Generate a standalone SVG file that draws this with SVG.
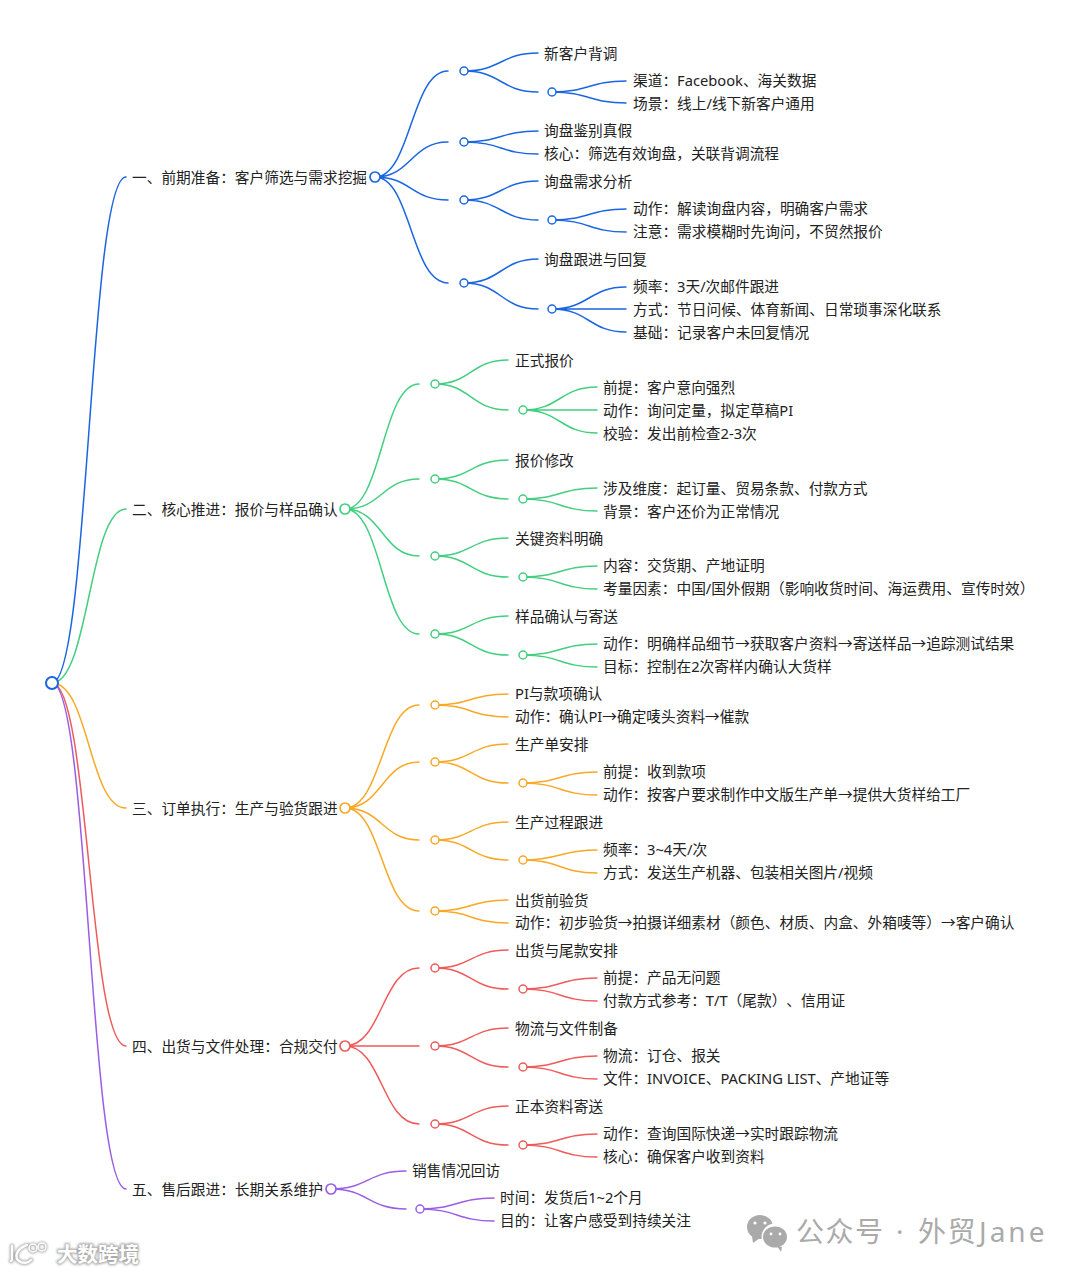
<svg xmlns="http://www.w3.org/2000/svg" width="1080" height="1274" viewBox="0 0 1080 1274">
<defs>
<style>
text{font-family:"Noto Sans","Noto Sans CJK SC",sans-serif;font-size:14.7px;fill:#222;text-spacing-trim:space-all}
path{fill:none;stroke-width:1.5;stroke-linecap:round}
circle{fill:#fff;stroke-width:1.5}
.root{stroke-width:2;stroke:#1a66e0}
.big{stroke-width:1.7}
.b path,.b circle{stroke:#1a66e0}
.g path,.g circle{stroke:#42cf7f}
.o path,.o circle{stroke:#f9a825}
.r path,.r circle{stroke:#ef5a5a}
.p path,.p circle{stroke:#9b5de5}
.wm text{font-size:28px;fill:#aaa;letter-spacing:1.5px}
.wm path,.wm ellipse{fill:#aaa;stroke:none}
.wm circle{fill:#fff;stroke:none}
.dk text{font-size:20.5px;font-weight:700;fill:#fff;stroke:none}
.dks text{font-size:20.5px;font-weight:700;fill:#aaa;stroke:#aaa;stroke-width:2.5px}
.dk path{fill:none;stroke:#fff;stroke-width:2.4}
.dks path{fill:none;stroke:#aaa;stroke-width:4.5}
.dk circle{fill:none;stroke:#fff;stroke-width:1.5}
.dks circle{fill:none;stroke:#aaa;stroke-width:3}
</style>
<filter id="soft" x="-10%" y="-20%" width="120%" height="140%"><feGaussianBlur stdDeviation="1.2"/></filter>
</defs>
<rect width="1080" height="1274" fill="#fff"/>
<g id="connectors">
<g class="b">
<path d="M52 683C89 683 89 177 126 177"/>
<path d="M375 177C411 177 411 71 448 71M375 177C411 177 411 142 448 142M375 177C411 177 411 200 448 200M375 177C411 177 411 283 448 283"/>
<path d="M464 71C501 71 501 53 538 53M464 71C501 71 501 92 538 92M552 92C589 92 589 81 626 81M552 92C589 92 589 103 626 103"/>
<path d="M464 142C501 142 501 131 538 131M464 142C501 142 501 154 538 154"/>
<path d="M464 200C501 200 501 181 538 181M464 200C501 200 501 220 538 220M552 220C589 220 589 209 626 209M552 220C589 220 589 232 626 232"/>
<path d="M464 283C501 283 501 259 538 259M464 283C501 283 501 309 538 309M552 309C589 309 589 287 626 287M552 309L626 309M552 309C589 309 589 332 626 332"/>
</g>
<g class="g">
<path d="M52 683C89 683 89 509 126 509"/>
<path d="M345 509C382 509 382 384 419 384M345 509C382 509 382 479 419 479M345 509C382 509 382 556 419 556M345 509C382 509 382 634 419 634"/>
<path d="M435 384C471 384 471 360 508 360M435 384C471 384 471 410 508 410M523 410C560 410 560 387 597 387M523 410L597 410M523 410C560 410 560 433 597 433"/>
<path d="M435 479C471 479 471 460 508 460M435 479C471 479 471 499 508 499M523 499C560 499 560 488 597 488M523 499C560 499 560 511 597 511"/>
<path d="M435 556C471 556 471 538 508 538M435 556C471 556 471 577 508 577M523 577C560 577 560 566 597 566M523 577C560 577 560 589 597 589"/>
<path d="M435 634C471 634 471 616 508 616M435 634C471 634 471 655 508 655M523 655C560 655 560 644 597 644M523 655C560 655 560 667 597 667"/>
</g>
<g class="o">
<path d="M52 683C89 683 89 808 126 808"/>
<path d="M345 808C382 808 382 705 419 705M345 808C382 808 382 762 419 762M345 808C382 808 382 840 419 840M345 808C382 808 382 911 419 911"/>
<path d="M435 705C471 705 471 694 508 694M435 705C471 705 471 717 508 717"/>
<path d="M435 762C471 762 471 744 508 744M435 762C471 762 471 783 508 783M523 783C560 783 560 772 597 772M523 783C560 783 560 795 597 795"/>
<path d="M435 840C471 840 471 822 508 822M435 840C471 840 471 860 508 860M523 860C560 860 560 850 597 850M523 860C560 860 560 873 597 873"/>
<path d="M435 911C471 911 471 900 508 900M435 911C471 911 471 923 508 923"/>
</g>
<g class="r">
<path d="M52 683C89 683 89 1046 126 1046"/>
<path d="M345 1046C382 1046 382 968 419 968M345 1046L419 1046M345 1046C382 1046 382 1124 419 1124"/>
<path d="M435 968C471 968 471 950 508 950M435 968C471 968 471 989 508 989M523 989C560 989 560 978 597 978M523 989C560 989 560 1001 597 1001"/>
<path d="M435 1046C471 1046 471 1028 508 1028M435 1046C471 1046 471 1067 508 1067M523 1067C560 1067 560 1056 597 1056M523 1067C560 1067 560 1079 597 1079"/>
<path d="M435 1124C471 1124 471 1106 508 1106M435 1124C471 1124 471 1145 508 1145M523 1145C560 1145 560 1134 597 1134M523 1145C560 1145 560 1157 597 1157"/>
</g>
<g class="p">
<path d="M52 683C89 683 89 1189 126 1189"/>
<path d="M331 1189C368 1189 368 1171 406 1171M331 1189C368 1189 368 1209 406 1209M420 1209C457 1209 457 1198 494 1198M420 1209C457 1209 457 1221 494 1221"/>
</g>
</g>
<g id="root"><circle class="root" cx="52" cy="683" r="6"/></g>
<g id="branch1" class="b">
<g id="n1"><text x="132" y="183">一、前期准备：客户筛选与需求挖掘</text><circle class="big" cx="375" cy="177" r="5"/></g>
<g id="n1-1"><circle cx="464" cy="71" r="4"/></g>
<g id="n1-1-1"><text x="544" y="59">新客户背调</text></g>
<g id="n1-1-2"><circle cx="552" cy="92" r="4"/></g>
<g id="n1-1-2-1"><text x="633" y="86">渠道：Facebook、海关数据</text></g>
<g id="n1-1-2-2"><text x="633" y="109">场景：线上/线下新客户通用</text></g>
<g id="n1-2"><circle cx="464" cy="142" r="4"/></g>
<g id="n1-2-1"><text x="544" y="136">询盘鉴别真假</text></g>
<g id="n1-2-2"><text x="544" y="159">核心：筛选有效询盘，关联背调流程</text></g>
<g id="n1-3"><circle cx="464" cy="200" r="4"/></g>
<g id="n1-3-1"><text x="544" y="187">询盘需求分析</text></g>
<g id="n1-3-2"><circle cx="552" cy="220" r="4"/></g>
<g id="n1-3-2-1"><text x="633" y="214">动作：解读询盘内容，明确客户需求</text></g>
<g id="n1-3-2-2"><text x="633" y="237">注意：需求模糊时先询问，不贸然报价</text></g>
<g id="n1-4"><circle cx="464" cy="283" r="4"/></g>
<g id="n1-4-1"><text x="544" y="265">询盘跟进与回复</text></g>
<g id="n1-4-2"><circle cx="552" cy="309" r="4"/></g>
<g id="n1-4-2-1"><text x="633" y="292">频率：3天/次邮件跟进</text></g>
<g id="n1-4-2-2"><text x="633" y="315">方式：节日问候、体育新闻、日常琐事深化联系</text></g>
<g id="n1-4-2-3"><text x="633" y="338">基础：记录客户未回复情况</text></g>
</g>
<g id="branch2" class="g">
<g id="n2"><text x="132" y="515">二、核心推进：报价与样品确认</text><circle class="big" cx="345" cy="509" r="5"/></g>
<g id="n2-1"><circle cx="435" cy="384" r="4"/></g>
<g id="n2-1-1"><text x="515" y="365.500">正式报价</text></g>
<g id="n2-1-2"><circle cx="523" cy="410" r="4"/></g>
<g id="n2-1-2-1"><text x="603" y="393">前提：客户意向强烈</text></g>
<g id="n2-1-2-2"><text x="603" y="416">动作：询问定量，拟定草稿PI</text></g>
<g id="n2-1-2-3"><text x="603" y="439">校验：发出前检查2-3次</text></g>
<g id="n2-2"><circle cx="435" cy="479" r="4"/></g>
<g id="n2-2-1"><text x="515" y="466">报价修改</text></g>
<g id="n2-2-2"><circle cx="523" cy="499" r="4"/></g>
<g id="n2-2-2-1"><text x="603" y="494">涉及维度：起订量、贸易条款、付款方式</text></g>
<g id="n2-2-2-2"><text x="603" y="517">背景：客户还价为正常情况</text></g>
<g id="n2-3"><circle cx="435" cy="556" r="4"/></g>
<g id="n2-3-1"><text x="515" y="544">关键资料明确</text></g>
<g id="n2-3-2"><circle cx="523" cy="577" r="4"/></g>
<g id="n2-3-2-1"><text x="603" y="571">内容：交货期、产地证明</text></g>
<g id="n2-3-2-2"><text x="603" y="594">考量因素：中国/国外假期（影响收货时间、海运费用、宣传时效）</text></g>
<g id="n2-4"><circle cx="435" cy="634" r="4"/></g>
<g id="n2-4-1"><text x="515" y="622">样品确认与寄送</text></g>
<g id="n2-4-2"><circle cx="523" cy="655" r="4"/></g>
<g id="n2-4-2-1"><text x="603" y="649">动作：明确样品细节→获取客户资料→寄送样品→追踪测试结果</text></g>
<g id="n2-4-2-2"><text x="603" y="672">目标：控制在2次寄样内确认大货样</text></g>
</g>
<g id="branch3" class="o">
<g id="n3"><text x="132" y="814">三、订单执行：生产与验货跟进</text><circle class="big" cx="345" cy="808" r="5"/></g>
<g id="n3-1"><circle cx="435" cy="705" r="4"/></g>
<g id="n3-1-1"><text x="515" y="699">PI与款项确认</text></g>
<g id="n3-1-2"><text x="515" y="722">动作：确认PI→确定唛头资料→催款</text></g>
<g id="n3-2"><circle cx="435" cy="762" r="4"/></g>
<g id="n3-2-1"><text x="515" y="750">生产单安排</text></g>
<g id="n3-2-2"><circle cx="523" cy="783" r="4"/></g>
<g id="n3-2-2-1"><text x="603" y="777">前提：收到款项</text></g>
<g id="n3-2-2-2"><text x="603" y="800">动作：按客户要求制作中文版生产单→提供大货样给工厂</text></g>
<g id="n3-3"><circle cx="435" cy="840" r="4"/></g>
<g id="n3-3-1"><text x="515" y="828">生产过程跟进</text></g>
<g id="n3-3-2"><circle cx="523" cy="860" r="4"/></g>
<g id="n3-3-2-1"><text x="603" y="855">频率：3~4天/次</text></g>
<g id="n3-3-2-2"><text x="603" y="878">方式：发送生产机器、包装相关图片/视频</text></g>
<g id="n3-4"><circle cx="435" cy="911" r="4"/></g>
<g id="n3-4-1"><text x="515" y="906">出货前验货</text></g>
<g id="n3-4-2"><text x="515" y="928">动作：初步验货→拍摄详细素材（颜色、材质、内盒、外箱唛等）→客户确认</text></g>
</g>
<g id="branch4" class="r">
<g id="n4"><text x="132" y="1052">四、出货与文件处理：合规交付</text><circle class="big" cx="345" cy="1046" r="5"/></g>
<g id="n4-1"><circle cx="435" cy="968" r="4"/></g>
<g id="n4-1-1"><text x="515" y="956">出货与尾款安排</text></g>
<g id="n4-1-2"><circle cx="523" cy="989" r="4"/></g>
<g id="n4-1-2-1"><text x="603" y="983">前提：产品无问题</text></g>
<g id="n4-1-2-2"><text x="603" y="1006">付款方式参考：T/T（尾款）、信用证</text></g>
<g id="n4-2"><circle cx="435" cy="1046" r="4"/></g>
<g id="n4-2-1"><text x="515" y="1034">物流与文件制备</text></g>
<g id="n4-2-2"><circle cx="523" cy="1067" r="4"/></g>
<g id="n4-2-2-1"><text x="603" y="1061">物流：订仓、报关</text></g>
<g id="n4-2-2-2"><text x="603" y="1084">文件：INVOICE、PACKING LIST、产地证等</text></g>
<g id="n4-3"><circle cx="435" cy="1124" r="4"/></g>
<g id="n4-3-1"><text x="515" y="1112">正本资料寄送</text></g>
<g id="n4-3-2"><circle cx="523" cy="1145" r="4"/></g>
<g id="n4-3-2-1"><text x="603" y="1139">动作：查询国际快递→实时跟踪物流</text></g>
<g id="n4-3-2-2"><text x="603" y="1162">核心：确保客户收到资料</text></g>
</g>
<g id="branch5" class="p">
<g id="n5"><text x="132" y="1195">五、售后跟进：长期关系维护</text><circle class="big" cx="331" cy="1189" r="5"/></g>
<g id="n5-1"><text x="412" y="1176">销售情况回访</text></g>
<g id="n5-2"><circle cx="420" cy="1209" r="4"/></g>
<g id="n5-2-1"><text x="500" y="1203">时间：发货后1~2个月</text></g>
<g id="n5-2-2"><text x="500" y="1226">目的：让客户感受到持续关注</text></g>
</g>
<g id="watermark-left">
<g class="dks" filter="url(#soft)">
<path d="M12 1246V1260L11 1261M27 1245C16 1249 14 1257 19 1261C23 1264 28 1263 31 1260"/>
<circle cx="33" cy="1248" r="4"/><circle cx="42" cy="1247" r="4"/>
<text x="57" y="1262">大数跨境</text>
</g>
<g class="dk">
<path d="M12 1246V1260L11 1261M27 1245C16 1249 14 1257 19 1261C23 1264 28 1263 31 1260"/>
<circle cx="33" cy="1248" r="4"/><circle cx="42" cy="1247" r="4"/>
<text x="57" y="1262">大数跨境</text>
</g>
</g>
<g id="watermark-right" class="wm">
<ellipse cx="760" cy="1227" rx="13" ry="12"/>
<path d="M752 1236L753 1243L760 1238Z"/>
<circle cx="775" cy="1237" r="13.5"/>
<ellipse cx="775" cy="1237" rx="12" ry="10.5"/>
<path d="M777 1246L782 1247L781 1252Z"/>
<circle cx="755" cy="1223" r="1.6"/><circle cx="765" cy="1223" r="1.6"/>
<circle cx="771" cy="1234" r="1.4"/><circle cx="780" cy="1234" r="1.4"/>
<text y="1242"><tspan x="796">公众号</tspan><tspan x="896">·</tspan><tspan x="918">外贸</tspan><tspan x="979" letter-spacing="3">Jane</tspan></text>
</g>
</svg>
